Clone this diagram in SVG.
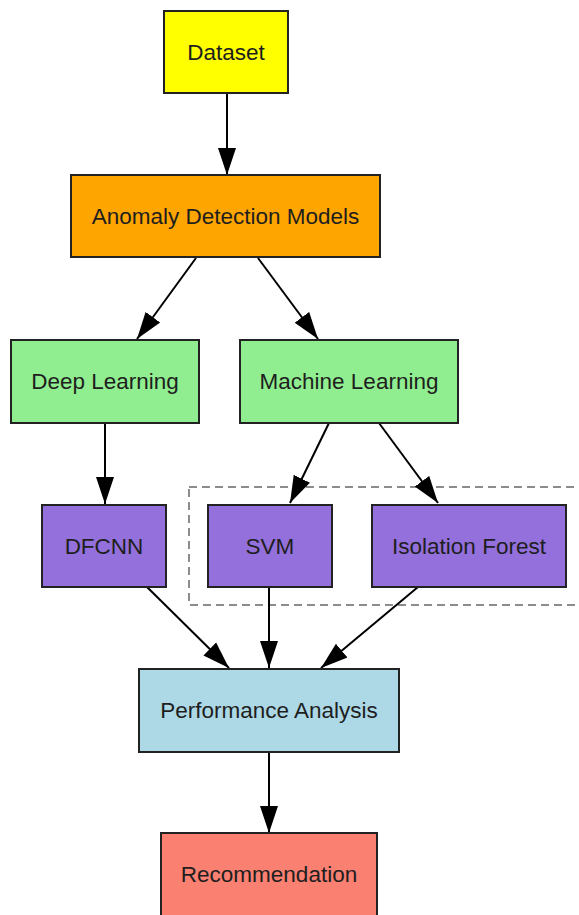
<svg xmlns="http://www.w3.org/2000/svg" width="579" height="915" viewBox="0 0 579 915">
  <defs>
    <marker id="arrow" markerUnits="userSpaceOnUse" markerWidth="28" markerHeight="20" viewBox="0 0 28 20" refX="27" refY="10" orient="auto">
      <path d="M0,1 L27,10 L0,19 Z" fill="#000"/>
    </marker>
  </defs>
  <style>
    rect.node { stroke: #222; stroke-width: 2; }
    text { font-family: "Liberation Sans", Arial, sans-serif; font-size: 22.5px; fill: #1e1e1e; text-anchor: middle; }
    .edge { stroke: #000; stroke-width: 2; fill: none; marker-end: url(#arrow); }
    .cluster { fill: none; stroke: #8c8c8c; stroke-width: 2; stroke-dasharray: 8 5; }
  </style>
  <rect width="579" height="915" fill="#fff"/>

  <!-- dashed group around the machine-learning models -->
  <rect class="cluster" x="189" y="487" width="420" height="118"/>

  <g id="connectors">
    <line class="edge" x1="227" y1="94" x2="227" y2="175"/>
    <line class="edge" x1="196" y1="258" x2="137" y2="339"/>
    <line class="edge" x1="258" y1="258" x2="318" y2="339"/>
    <line class="edge" x1="105" y1="423" x2="105" y2="504"/>
    <line class="edge" x1="329" y1="423" x2="290" y2="503"/>
    <line class="edge" x1="379" y1="423" x2="438" y2="503"/>
    <line class="edge" x1="147" y1="587" x2="229" y2="668"/>
    <line class="edge" x1="269" y1="587" x2="269" y2="668"/>
    <line class="edge" x1="418" y1="587" x2="321" y2="668"/>
    <line class="edge" x1="269" y1="752" x2="269" y2="833"/>
  </g>

  <g id="dataset">
    <rect class="node" x="164" y="11" width="124" height="82" fill="#ffff00"/>
    <text x="226" y="60">Dataset</text>
  </g>
  <g id="anomaly-detection">
    <rect class="node" x="71" y="175" width="309" height="82" fill="#ffa500"/>
    <text x="225.5" y="224">Anomaly Detection Models</text>
  </g>
  <g id="deep-learning">
    <rect class="node" x="11" y="340" width="188" height="83" fill="#90ee90"/>
    <text x="105" y="389">Deep Learning</text>
  </g>
  <g id="machine-learning">
    <rect class="node" x="240" y="340" width="218" height="83" fill="#90ee90"/>
    <text x="349" y="389">Machine Learning</text>
  </g>
  <g id="dfcnn">
    <rect class="node" x="42" y="505" width="124" height="82" fill="#9370db"/>
    <text x="104" y="554">DFCNN</text>
  </g>
  <g id="svm">
    <rect class="node" x="208" y="505" width="124" height="82" fill="#9370db"/>
    <text x="270" y="554">SVM</text>
  </g>
  <g id="isolation-forest">
    <rect class="node" x="372" y="505" width="194" height="82" fill="#9370db"/>
    <text x="469" y="554">Isolation Forest</text>
  </g>
  <g id="performance-analysis">
    <rect class="node" x="139" y="669" width="260" height="83" fill="#add8e6"/>
    <text x="269" y="718">Performance Analysis</text>
  </g>
  <g id="recommendation">
    <rect class="node" x="161" y="833" width="216" height="90" fill="#fa8072"/>
    <text x="269" y="882">Recommendation</text>
  </g>
</svg>
